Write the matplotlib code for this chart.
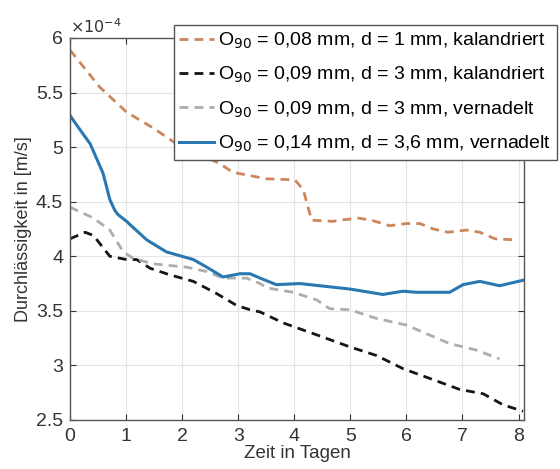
import matplotlib
matplotlib.use("Agg")
import matplotlib.pyplot as plt
from matplotlib.ticker import FormatStrFormatter

plt.rcParams['font.family'] = ['Liberation Sans', 'DejaVu Sans']

# Values in units of 1e-4 m/s
t_orange = [0, 0.53, 1.01, 1.5, 1.9, 2.32, 2.67, 2.9, 3.5, 4.01, 4.16, 4.31, 4.69, 4.81, 5.14, 5.38, 5.70,
            6.0, 6.24, 6.48, 6.74, 7.07, 7.31, 7.58, 7.96]
v_orange = [5.89, 5.55, 5.32, 5.17, 5.03, 4.93, 4.85, 4.77, 4.71, 4.70, 4.61, 4.33, 4.32, 4.33, 4.35, 4.33, 4.28,
            4.30, 4.30, 4.25, 4.22, 4.24, 4.22, 4.16, 4.15]

t_black = [0, 0.27, 0.42, 0.71, 1.01, 1.19, 1.43, 1.78, 2.2, 2.61, 2.97, 3.21, 3.39, 3.8, 4.4, 4.99, 5.47,
           5.94, 6.42, 6.95, 7.37, 7.72, 8.08]
v_black = [4.16, 4.22, 4.19, 4.00, 3.97, 3.97, 3.89, 3.83, 3.77, 3.66, 3.55, 3.51, 3.49, 3.39, 3.28, 3.17, 3.09,
           2.97, 2.88, 2.78, 2.74, 2.64, 2.58]

t_gray = [0, 0.42, 0.71, 0.95, 1.13, 1.49, 2.08, 2.44, 2.73, 3.15, 3.39, 3.51, 3.98, 4.4, 4.63, 4.99, 5.47,
          6.0, 6.36, 6.77, 7.25, 7.66]
v_gray = [4.45, 4.35, 4.24, 4.04, 3.98, 3.93, 3.90, 3.86, 3.80, 3.80, 3.75, 3.71, 3.67, 3.60, 3.52, 3.51, 3.43,
          3.37, 3.29, 3.20, 3.14, 3.06]

t_blue = [0, 0.15, 0.36, 0.59, 0.71, 0.80, 0.86, 1.01, 1.07, 1.37, 1.72, 2.2, 2.44, 2.73, 3.03, 3.21, 3.39,
          3.68, 4.1, 4.99, 5.58, 5.94, 6.18, 6.77, 7.01, 7.31, 7.66, 8.08]
v_blue = [5.29, 5.18, 5.03, 4.76, 4.52, 4.42, 4.38, 4.32, 4.29, 4.15, 4.04, 3.97, 3.90, 3.81, 3.84, 3.84, 3.80,
          3.74, 3.75, 3.70, 3.65, 3.68, 3.67, 3.67, 3.74, 3.77, 3.73, 3.78]

labels = [r"O$_{90}$ = 0,08 mm, d = 1 mm, kalandriert",
          r"O$_{90}$ = 0,09 mm, d = 3 mm, kalandriert",
          r"O$_{90}$ = 0,09 mm, d = 3 mm, vernadelt",
          r"O$_{90}$ = 0,14 mm, d = 3,6 mm, vernadelt"]

x_ticks = [0, 1, 2, 3, 4, 5, 6, 7, 8]
y_ticks = [2.5, 3, 3.5, 4, 4.5, 5, 5.5, 6]

fig = plt.figure(figsize=(5.6, 4.69), dpi=100)
ax = fig.add_axes([0.125, 0.1045, 0.811, 0.8145])

dash = (3.2, 2.2)
ax.plot(t_orange, v_orange, color='#cd865a', lw=2.0, dashes=dash, label=labels[0])
ax.plot(t_black, v_black, color='#151515', lw=2.0, dashes=dash, label=labels[1])
ax.plot(t_gray, v_gray, color='#adadad', lw=2.0, dashes=dash, label=labels[2])
ax.plot(t_blue, v_blue, color='#2a78b2', lw=2.2, label=labels[3])

ax.set_xlim(0, 8.1)
ax.set_ylim(2.5, 6)
ax.set_xticks(x_ticks)
ax.set_yticks(y_ticks)
ax.yaxis.set_major_formatter(FormatStrFormatter('%g'))
ax.grid(True, color='#e4e4e4', lw=0.8)
ax.set_axisbelow(True)
ax.tick_params(direction='in', length=4, labelsize=14, colors='#333333',
               top=True, right=True)
ax.tick_params(axis='x', pad=6)
ax.tick_params(axis='y', pad=5)
for s in ax.spines.values():
    s.set_color('#555555')
    s.set_linewidth(1.0)

ax.set_xlabel('Zeit in Tagen', fontsize=13.5, color='#333333', labelpad=0)
ax.set_ylabel('Durchlässigkeit in [m/s]', fontsize=13, color='#333333', labelpad=3)
ax.text(0.0, 1.005, r'$\times10^{-4}$', transform=ax.transAxes, fontsize=11.5,
        color='#333333', ha='left', va='bottom')

leg = fig.legend(loc='upper right', bbox_to_anchor=(0.995, 0.947), fontsize=14,
                 handlelength=1.8, handletextpad=0.2, labelspacing=0.72,
                 borderpad=0.3, fancybox=False, framealpha=1, edgecolor='#555555',
                 borderaxespad=0)
leg.get_frame().set_linewidth(1.0)

fig.savefig('out.png', dpi=100)
